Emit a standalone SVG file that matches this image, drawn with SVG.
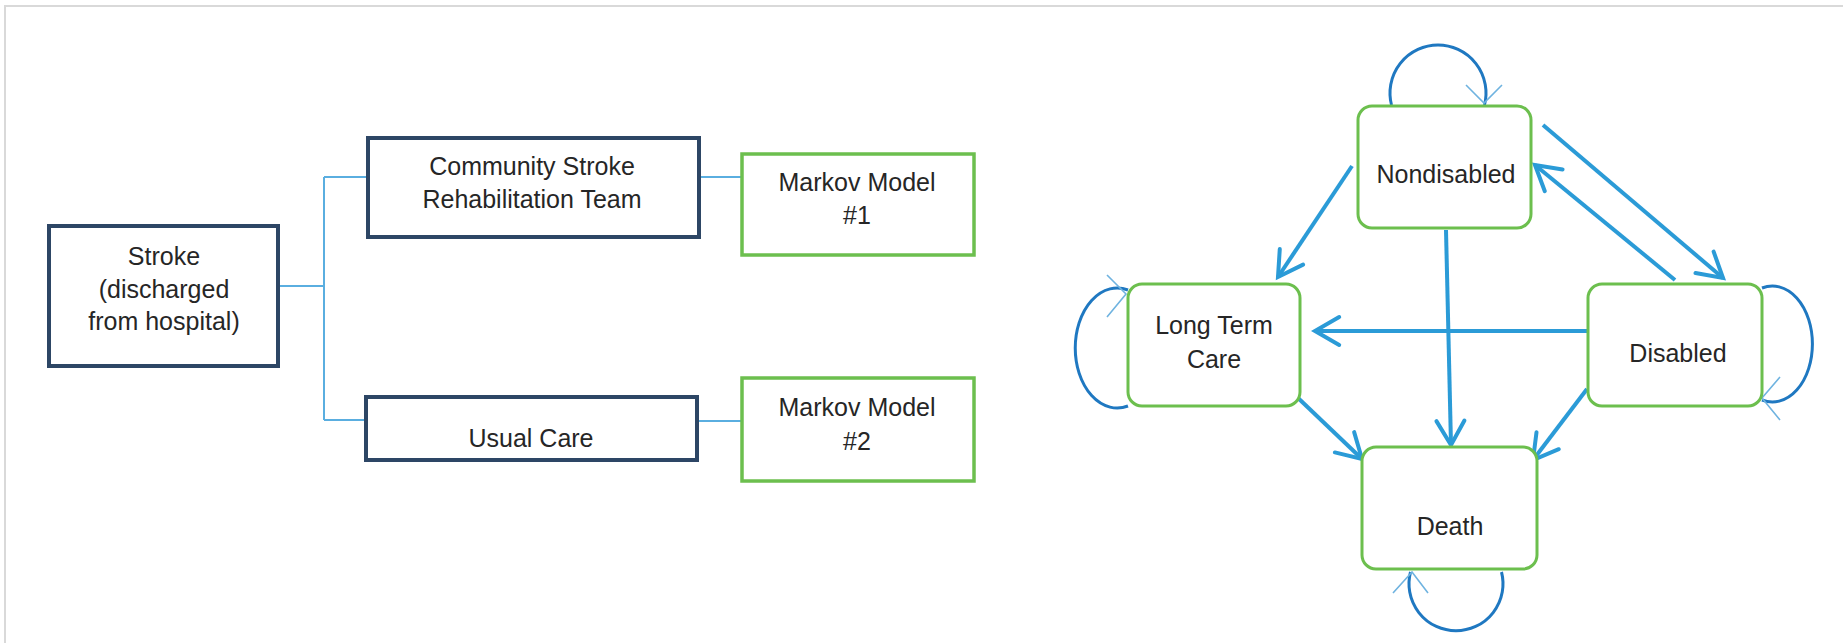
<svg xmlns="http://www.w3.org/2000/svg" width="1843" height="643" viewBox="0 0 1843 643">
  <style>
    .label { font-family: "Liberation Sans", Arial, sans-serif; font-size: 25px; fill: #262626; text-anchor: middle; }
    .tree-box { fill: #ffffff; stroke: #2d4665; stroke-width: 4; }
    .model-box { fill: #ffffff; stroke: #6cbf4e; stroke-width: 3.5; }
    .state { fill: #ffffff; stroke: #6cbf4e; stroke-width: 3; }
    .branch { fill: none; stroke: #5aaee0; stroke-width: 2; }
    .transition { fill: none; stroke: #2b9bd7; stroke-width: 4; marker-end: url(#openHead); }
    .loop { fill: none; stroke: #1f78c1; stroke-width: 3; }
    .loop-head { fill: none; stroke: #6fb3e0; stroke-width: 1.6; }
  </style>
  <defs>
    <marker id="openHead" markerUnits="userSpaceOnUse" markerWidth="40" markerHeight="40" viewBox="-30 -20 34 40" refX="0" refY="0" orient="auto">
      <path d="M -24.2 -14 L 0 0 L -24.2 14" fill="none" stroke="#2b9bd7" stroke-width="4" stroke-linecap="round" stroke-linejoin="miter"/>
    </marker>
  </defs>

  <rect x="0" y="0" width="1843" height="643" fill="#ffffff"/>
  <!-- page frame -->
  <path d="M 5 643 L 5 6 L 1843 6" fill="none" stroke="#d9d9d9" stroke-width="2"/>

  <!-- decision tree branches -->
  <g id="tree-connectors">
    <path class="branch" d="M 279 286 L 324 286"/>
    <path class="branch" d="M 324 177 L 324 420"/>
    <path class="branch" d="M 324 177 L 367 177"/>
    <path class="branch" d="M 324 420 L 365 420"/>
    <path class="branch" d="M 700 177 L 741 177"/>
    <path class="branch" d="M 698 421 L 741 421"/>
  </g>

  <g id="stroke">
    <rect class="tree-box" x="49" y="226" width="229" height="140"/>
    <text class="label" x="164" y="265">Stroke</text>
    <text class="label" x="164" y="297.5">(discharged</text>
    <text class="label" x="164" y="330">from hospital)</text>
  </g>
  <g id="community-team">
    <rect class="tree-box" x="368" y="138" width="331" height="99"/>
    <text class="label" x="532" y="175">Community Stroke</text>
    <text class="label" x="532" y="208">Rehabilitation Team</text>
  </g>
  <g id="usual-care">
    <rect class="tree-box" x="366" y="397" width="331" height="63"/>
    <text class="label" x="531" y="447">Usual Care</text>
  </g>
  <g id="markov-1">
    <rect class="model-box" x="742" y="154" width="232" height="101"/>
    <text class="label" x="857" y="191">Markov Model</text>
    <text class="label" x="857" y="224">#1</text>
  </g>
  <g id="markov-2">
    <rect class="model-box" x="742" y="378" width="232" height="103"/>
    <text class="label" x="857" y="416">Markov Model</text>
    <text class="label" x="857" y="450">#2</text>
  </g>

  <!-- state transitions -->
  <g id="transitions">
    <path class="loop" d="M 1391.5 105 A 48 48 0 1 1 1484.5 105"/>
    <path class="loop-head" d="M 1466 85 L 1484 103 L 1502 85"/>

    <path class="loop" d="M 1128 406 A 42 60 0 1 1 1128 290"/>
    <path class="loop-head" d="M 1107 275 L 1126 294 L 1107 317"/>

    <path class="loop" d="M 1762 288 A 40 58 0 1 1 1762 400"/>
    <path class="loop-head" d="M 1780 377 L 1762 398 L 1780 420"/>

    <path class="loop" d="M 1501.5 572 A 47 47 0 1 1 1410.5 572"/>
    <path class="loop-head" d="M 1393 593 L 1412 572 L 1428 593"/>

    <path class="transition" d="M 1352 166 L 1278 277"/>
    <path class="transition" d="M 1446 230 L 1451 445"/>
    <path class="transition" d="M 1543 125 L 1723 278"/>
    <path class="transition" d="M 1675 280 L 1535 165"/>
    <path class="transition" d="M 1587 331 L 1315 331"/>
    <path class="transition" d="M 1297 397 L 1362 459"/>
    <path class="transition" d="M 1587 389 L 1533 460"/>
  </g>

  <g id="nondisabled">
    <rect class="state" x="1358" y="106" width="173" height="122" rx="14"/>
    <text class="label" x="1446" y="183">Nondisabled</text>
  </g>
  <g id="long-term-care">
    <rect class="state" x="1128" y="284" width="172" height="122" rx="14"/>
    <text class="label" x="1214" y="334">Long Term</text>
    <text class="label" x="1214" y="368">Care</text>
  </g>
  <g id="disabled">
    <rect class="state" x="1588" y="284" width="174" height="122" rx="14"/>
    <text class="label" x="1678" y="362">Disabled</text>
  </g>
  <g id="death">
    <rect class="state" x="1362" y="447" width="175" height="122" rx="14"/>
    <text class="label" x="1450" y="535">Death</text>
  </g>
</svg>
